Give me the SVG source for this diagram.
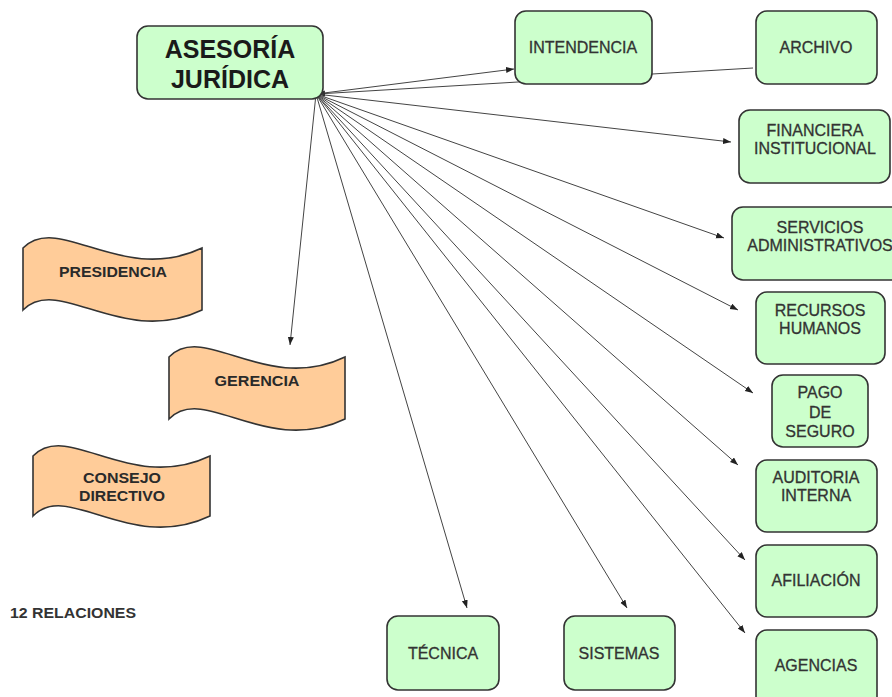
<svg xmlns="http://www.w3.org/2000/svg" width="892" height="697" viewBox="0 0 892 697">
<style>
.box{fill:#CCFFCC;stroke:#333333;stroke-width:1.6}
.flag{fill:#FFCC99;stroke:#333333;stroke-width:1.6}
.t{font-family:"Liberation Sans",Arial,sans-serif;font-size:16px;fill:#333333;stroke:#333333;stroke-width:0.3;text-anchor:middle}
.ft{font-family:"Liberation Sans",Arial,sans-serif;font-size:15px;font-weight:bold;fill:#2a2a2a;text-anchor:middle}
.big{font-family:"Liberation Sans",Arial,sans-serif;font-size:25px;font-weight:bold;fill:#1a1a1a;text-anchor:middle}
.c{stroke:#444444;stroke-width:1;fill:none}
.ca{stroke:#444444;stroke-width:1;fill:none;marker-end:url(#ah)}
</style>
<defs>
<marker id="ah" markerWidth="9" markerHeight="7" refX="8" refY="3" orient="auto" markerUnits="userSpaceOnUse">
<path d="M0,0 L8,3 L0,6 Z" fill="#222222"/>
</marker>
</defs>
<rect width="892" height="697" fill="#ffffff"/>
<g id="connectors">
<line class="ca" x1="753" y1="68" x2="317" y2="94"/>
<line class="ca" x1="316" y1="94" x2="514" y2="69"/>
<line class="ca" x1="316" y1="94" x2="731" y2="142"/>
<line class="ca" x1="316" y1="94" x2="724" y2="238"/>
<line class="ca" x1="316" y1="94" x2="738" y2="310"/>
<line class="ca" x1="316" y1="94" x2="753" y2="393"/>
<line class="ca" x1="316" y1="94" x2="738" y2="465"/>
<line class="ca" x1="316" y1="94" x2="745" y2="560"/>
<line class="ca" x1="316" y1="94" x2="745" y2="633"/>
<line class="ca" x1="316" y1="94" x2="627" y2="608"/>
<line class="ca" x1="316" y1="94" x2="467" y2="608"/>
<line class="ca" x1="316" y1="94" x2="290" y2="345"/>
</g>
<g id="asesoria">
<rect class="box" x="137" y="26" width="186" height="73" rx="11"/>
<text class="big" x="230" y="58">ASESORÍA</text>
<text class="big" x="230" y="88">JURÍDICA</text>
</g>
<g id="intendencia">
<rect class="box" x="515" y="11" width="137" height="73" rx="11"/>
<text class="t" x="583" y="53">INTENDENCIA</text>
</g>
<g id="archivo">
<rect class="box" x="756" y="11" width="121" height="73" rx="11"/>
<text class="t" x="816" y="53">ARCHIVO</text>
</g>
<g id="financiera">
<rect class="box" x="739" y="110" width="151" height="73" rx="11"/>
<text class="t" x="815" y="136">FINANCIERA</text>
<text class="t" x="815" y="154">INSTITUCIONAL</text>
</g>
<g id="servicios">
<rect class="box" x="732" y="207" width="176" height="73" rx="11"/>
<text class="t" x="820" y="233">SERVICIOS</text>
<text class="t" x="820" y="251">ADMINISTRATIVOS</text>
</g>
<g id="recursos">
<rect class="box" x="756" y="292" width="129" height="72" rx="11"/>
<text class="t" x="820" y="316">RECURSOS</text>
<text class="t" x="820" y="334">HUMANOS</text>
</g>
<g id="pago">
<rect class="box" x="772" y="375" width="96" height="72" rx="11"/>
<text class="t" x="820" y="398">PAGO</text>
<text class="t" x="820" y="418">DE</text>
<text class="t" x="820" y="437">SEGURO</text>
</g>
<g id="auditoria">
<rect class="box" x="756" y="460" width="121" height="72" rx="11"/>
<text class="t" x="816" y="483">AUDITORIA</text>
<text class="t" x="816" y="501">INTERNA</text>
</g>
<g id="afiliacion">
<rect class="box" x="756" y="545" width="121" height="72" rx="11"/>
<text class="t" x="816" y="586">AFILIACIÓN</text>
</g>
<g id="agencias">
<rect class="box" x="756" y="630" width="121" height="78" rx="11"/>
<text class="t" x="816" y="671">AGENCIAS</text>
</g>
<g id="tecnica">
<rect class="box" x="387" y="616" width="112" height="74" rx="11"/>
<text class="t" x="443" y="659">TÉCNICA</text>
</g>
<g id="sistemas">
<rect class="box" x="564" y="616" width="111" height="74" rx="11"/>
<text class="t" x="619" y="659">SISTEMAS</text>
</g>
<g id="presidencia">
<path class="flag" d="M23,248 C59,212 122,286 202,248 L202,310 C122,348 59,274 23,310 Z"/>
<text class="ft" x="113" y="277" textLength="108" lengthAdjust="spacingAndGlyphs">PRESIDENCIA</text>
</g>
<g id="gerencia">
<path class="flag" d="M169,357 C204,321 266,395 345,357 L345,419 C266,457 204,383 169,419 Z"/>
<text class="ft" x="257" y="386" textLength="85" lengthAdjust="spacingAndGlyphs">GERENCIA</text>
</g>
<g id="consejo">
<path class="flag" d="M33,456 C68,420 130,494 210,456 L210,516 C130,554 68,480 33,516 Z"/>
<text class="ft" x="122" y="483" textLength="78" lengthAdjust="spacingAndGlyphs">CONSEJO</text>
<text class="ft" x="122" y="501" textLength="86" lengthAdjust="spacingAndGlyphs">DIRECTIVO</text>
</g>
<text x="10" y="618" font-family="Liberation Sans, Arial, sans-serif" font-size="14" font-weight="bold" fill="#333333" textLength="126" lengthAdjust="spacingAndGlyphs">12 RELACIONES</text>
</svg>
